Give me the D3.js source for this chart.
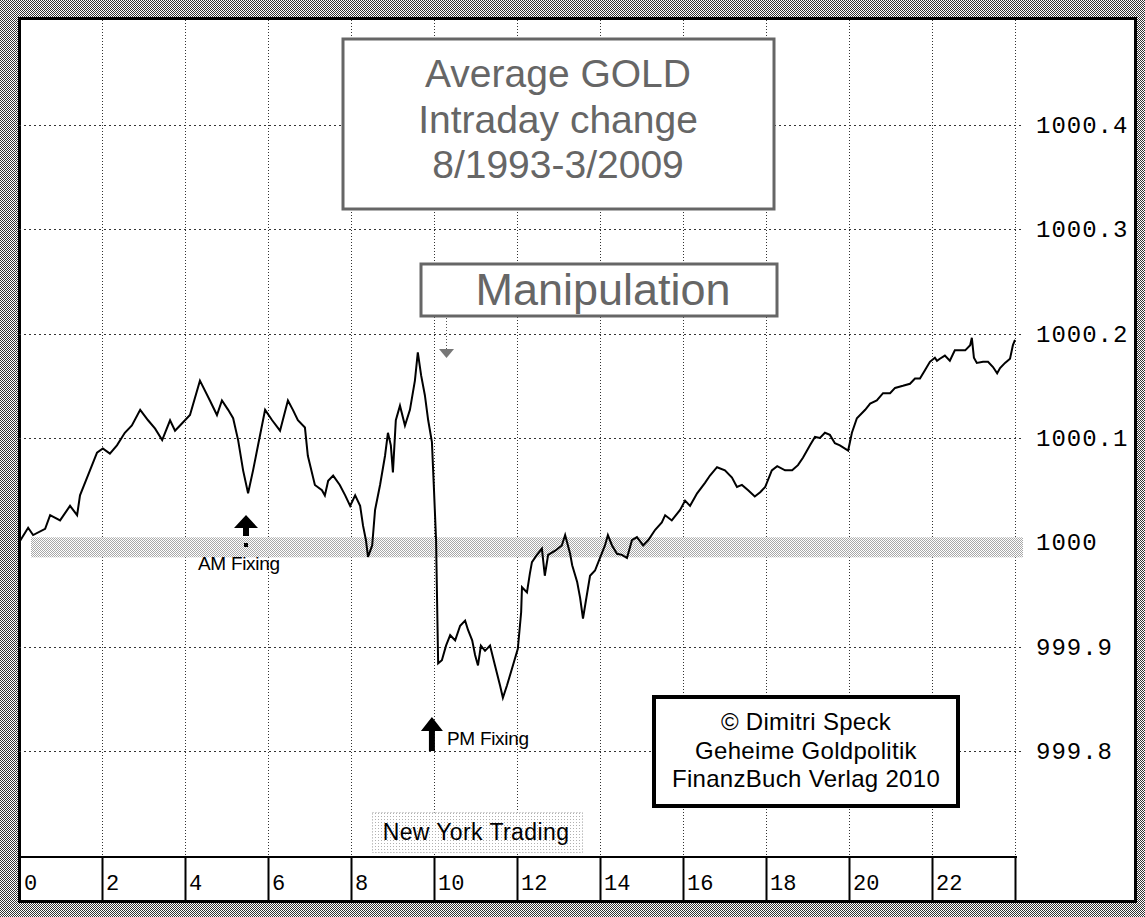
<!DOCTYPE html>
<html>
<head>
<meta charset="utf-8">
<script src="https://cdn.jsdelivr.net/npm/d3@7"></script>
<style>
  body { margin: 0; background: #fff; }
  svg { display: block; }
</style>
</head>
<body>
<script>
/***********************************************************************************/
// Data (average intraday gold curve)

var hours = [
  0.02,0.22,0.34,0.63,0.75,0.99,1.23,1.40,1.47,1.71,
  1.88,2.02,2.19,2.36,2.55,2.72,2.92,3.11,3.28,3.45,
  3.64,3.76,3.88,4.12,4.36,4.60,4.77,4.89,5.04,5.16,
  5.28,5.40,5.52,5.64,5.76,5.93,6.10,6.29,6.48,6.60,
  6.72,6.89,6.96,7.13,7.30,7.37,7.45,7.57,7.73,7.86,
  7.98,8.10,8.22,8.29,8.36,8.41,8.51,8.58,8.70,8.82,
  8.89,8.96,9.01,9.08,9.18,9.30,9.42,9.54,9.61,9.69,
  9.78,9.86,9.95,10.00,10.05,10.07,10.10,10.19,10.29,10.39,
  10.51,10.63,10.75,10.82,10.92,10.99,11.06,11.13,11.23,11.35,
  11.47,11.59,11.66,11.76,11.88,12.02,12.10,12.12,12.24,12.31,
  12.36,12.48,12.60,12.67,12.75,12.92,13.08,13.16,13.28,13.33,
  13.45,13.52,13.59,13.66,13.76,13.88,14.00,14.12,14.19,14.29,
  14.41,14.53,14.65,14.77,14.89,15.04,15.16,15.33,15.49,15.57,
  15.73,15.93,16.05,16.17,16.34,16.53,16.65,16.82,17.01,17.18,
  17.30,17.42,17.57,17.73,17.86,17.98,18.14,18.27,18.46,18.63,
  18.77,18.89,19.06,19.18,19.30,19.42,19.54,19.66,19.78,19.98,
  20.07,20.19,20.39,20.51,20.67,20.82,20.99,21.11,21.30,21.47,
  21.59,21.71,21.83,21.95,22.07,22.12,22.19,22.31,22.43,22.55,
  22.67,22.80,22.92,22.96,23.01,23.08,23.23,23.35,23.47,23.57,
  23.64,23.76,23.88,23.95,24.00
];

var prices = [
  1000.001,1000.014,1000.007,1000.013,1000.026,1000.021,1000.035,1000.026,1000.045,1000.069,
  1000.086,1000.090,1000.085,1000.093,1000.105,1000.112,1000.127,1000.117,1000.109,1000.098,
  1000.117,1000.107,1000.112,1000.122,1000.155,1000.136,1000.122,1000.136,1000.127,1000.119,
  1000.098,1000.069,1000.047,1000.069,1000.093,1000.127,1000.117,1000.107,1000.136,1000.127,
  1000.117,1000.110,1000.083,1000.055,1000.050,1000.045,1000.059,1000.064,1000.055,1000.045,
  1000.035,1000.045,1000.035,1000.016,1000.002,999.986,999.997,1000.031,1000.055,1000.083,
  1000.105,1000.093,1000.067,1000.117,1000.131,1000.112,1000.127,1000.155,1000.182,1000.160,
  1000.141,1000.117,1000.096,1000.050,1000.002,999.954,999.884,999.887,999.901,999.911,
  999.906,999.920,999.925,999.916,999.906,999.892,999.882,999.901,999.896,999.901,
  999.882,999.863,999.851,999.863,999.879,999.898,999.933,999.957,999.952,999.970,
  999.981,999.988,999.994,999.968,999.988,999.992,999.997,1000.007,999.989,999.978,
  999.962,999.947,999.927,999.944,999.968,999.973,999.985,999.997,1000.007,999.997,
  999.989,999.988,999.985,1000.002,1000.005,999.997,1000.002,1000.012,1000.019,1000.026,
  1000.021,1000.031,1000.040,1000.035,1000.047,1000.057,1000.064,1000.072,1000.069,1000.062,
  1000.053,1000.055,1000.050,1000.044,1000.048,1000.053,1000.069,1000.073,1000.069,1000.069,
  1000.074,1000.081,1000.093,1000.101,1000.100,1000.105,1000.103,1000.095,1000.093,1000.088,
  1000.105,1000.119,1000.127,1000.133,1000.136,1000.143,1000.143,1000.148,1000.150,1000.152,
  1000.157,1000.157,1000.165,1000.173,1000.177,1000.174,1000.176,1000.179,1000.174,1000.184,
  1000.184,1000.184,1000.189,1000.196,1000.177,1000.172,1000.173,1000.173,1000.168,1000.162,
  1000.167,1000.172,1000.176,1000.189,1000.194
];

var hourTicks = [0, 2, 4, 6, 8, 10, 12, 14, 16, 18, 20, 22];
var priceTicks = [999.8, 999.9, 1000, 1000.1, 1000.2, 1000.3, 1000.4];
var baseline = 1000;
var amFixingHour = 5.47;
var pmFixingHour = 9.95;
var titleLines = ["Average GOLD", "Intraday change", "8/1993-3/2009"];
var creditLines = ["\u00A9 Dimitri Speck", "Geheime Goldpolitik", "FinanzBuch Verlag 2010"];

/***********************************************************************************/
// Setup

var width = 1145, height = 917;
var frame = { left: 18, top: 17, right: 1137, bottom: 903 };
var axisTop = 857;
var monoFont = '"Liberation Mono", "DejaVu Sans Mono", monospace';
var sansFont = '"Liberation Sans", Arial, sans-serif';

var x = d3.scaleLinear().domain([0, 24]).range([19, 1015]);
var y = d3.scaleLinear().domain([999.8, 1000.4]).range([751, 125]);

var svg = d3.select('body').append('svg')
  .attr('width', width).attr('height', height);

var defs = svg.append('defs');
function checker(id, color){
  var p = defs.append('pattern').attr('id', id)
    .attr('width', 2).attr('height', 2).attr('patternUnits', 'userSpaceOnUse');
  p.append('rect').attr('width', 2).attr('height', 2).attr('fill', '#fff');
  p.append('rect').attr('x', 0).attr('y', 0).attr('width', 1).attr('height', 1).attr('fill', color);
  p.append('rect').attr('x', 1).attr('y', 1).attr('width', 1).attr('height', 1).attr('fill', color);
}
checker('dither', '#333');
checker('ditherLight', '#a8a8a8');
var sparse = defs.append('pattern').attr('id', 'sparse')
  .attr('width', 3).attr('height', 3).attr('patternUnits', 'userSpaceOnUse');
sparse.append('rect').attr('width', 3).attr('height', 3).attr('fill', '#fff');
sparse.append('rect').attr('width', 1).attr('height', 1).attr('fill', '#b0b0b0');

/***********************************************************************************/
// Background + frame

svg.append('rect').attr('width', width).attr('height', height).attr('fill', 'url(#dither)');
svg.append('rect')
  .attr('x', frame.left + 1.5).attr('y', frame.top + 1.5)
  .attr('width', frame.right - frame.left - 3).attr('height', frame.bottom - frame.top - 3)
  .attr('fill', '#fff').attr('stroke', '#000').attr('stroke-width', 3);

/***********************************************************************************/
// Grid

var grid = svg.append('g');
grid.selectAll('.vgrid').data(hourTicks.slice(1).concat([24])).enter().append('line')
  .attr('x1', d => x(d) + 0.5).attr('x2', d => x(d) + 0.5)
  .attr('y1', frame.top + 3).attr('y2', axisTop)
  .attr('stroke', '#333').attr('stroke-width', 1).attr('stroke-dasharray', '1,2');

grid.selectAll('.hgrid').data(priceTicks.filter(d => d !== baseline)).enter().append('line')
  .attr('x1', x(0)).attr('x2', x(24) + 8)
  .attr('y1', d => Math.round(y(d)) + 0.5).attr('y2', d => Math.round(y(d)) + 0.5)
  .attr('stroke', '#333').attr('stroke-width', 1).attr('stroke-dasharray', '2,3');

// shaded 1000 baseline band
svg.append('rect')
  .attr('x', x(0) + 12).attr('y', y(baseline) - 5)
  .attr('width', x(24) - x(0) - 4).attr('height', 20)
  .attr('fill', 'url(#ditherLight)');

/***********************************************************************************/
// Price labels (right)

svg.selectAll('.ylab').data(priceTicks).enter().append('text')
  .attr('x', 1036).attr('y', d => y(d) + 8)
  .style('font-family', monoFont)
  .style('font-size', '24px').style('letter-spacing', '1px')
  .attr('fill', '#000')
  .text(d => String(+d.toFixed(1)));

/***********************************************************************************/
// Hour axis band (bottom)

svg.append('line')
  .attr('x1', frame.left).attr('x2', x(24) + 2)
  .attr('y1', axisTop).attr('y2', axisTop)
  .attr('stroke', '#000').attr('stroke-width', 2);
svg.selectAll('.sep').data(hourTicks.slice(1).concat([24])).enter().append('line')
  .attr('x1', d => x(d) + 0.5).attr('x2', d => x(d) + 0.5)
  .attr('y1', axisTop).attr('y2', frame.bottom)
  .attr('stroke', '#000').attr('stroke-width', 2);
svg.selectAll('.xlab').data(hourTicks).enter().append('text')
  .attr('x', d => x(d) + (d === 0 ? 5 : 4)).attr('y', 890)
  .style('font-family', monoFont)
  .style('font-size', '22px')
  .attr('fill', '#000')
  .text(d => d);

/***********************************************************************************/
// Price line

var line = d3.line()
  .x((d, i) => x(hours[i]))
  .y(d => y(d));
svg.append('path').datum(prices)
  .attr('d', line)
  .attr('fill', 'none').attr('stroke', '#000')
  .attr('stroke-width', 2).attr('stroke-linejoin', 'miter');

/***********************************************************************************/
// Title box

svg.append('rect')
  .attr('x', 343).attr('y', 39).attr('width', 431).attr('height', 170)
  .attr('fill', '#fff').attr('stroke', '#666').attr('stroke-width', 3);
svg.selectAll('.title').data(titleLines).enter().append('text')
  .attr('x', 558).attr('y', (d, i) => 87 + i * 45.5)
  .attr('text-anchor', 'middle')
  .style('font-family', sansFont)
  .style('font-size', '39px')
  .attr('fill', '#666')
  .text(d => d);

/***********************************************************************************/
// Manipulation box + arrow

svg.append('rect')
  .attr('x', 421).attr('y', 264).attr('width', 356).attr('height', 52)
  .attr('fill', '#fff').attr('stroke', '#666').attr('stroke-width', 3);
svg.append('text')
  .attr('x', 603).attr('y', 305)
  .attr('text-anchor', 'middle')
  .style('font-family', sansFont)
  .style('font-size', '45px')
  .attr('fill', '#666')
  .text('Manipulation');
svg.append('line')
  .attr('x1', 446.5).attr('x2', 446.5).attr('y1', 318).attr('y2', 350)
  .attr('stroke', '#555').attr('stroke-width', 1).attr('stroke-dasharray', '1,2');
svg.append('path')
  .attr('d', 'M439,349 L454,349 L446.5,358 Z')
  .attr('fill', '#777');

/***********************************************************************************/
// Fixing markers

function upArrow(cx, tip, head, half, bottom){
  return 'M' + cx + ',' + tip + ' L' + (cx + half) + ',' + head + ' L' + (cx + 3) + ',' + head +
    ' L' + (cx + 3) + ',' + bottom + ' L' + (cx - 3) + ',' + bottom + ' L' + (cx - 3) + ',' + head +
    ' L' + (cx - half) + ',' + head + ' Z';
}

var amX = x(amFixingHour);
svg.append('path').attr('d', upArrow(amX, 515, 528, 12, 536)).attr('fill', '#000');
svg.append('rect').attr('x', amX - 2).attr('y', 543).attr('width', 4).attr('height', 4).attr('fill', '#000');
svg.append('text')
  .attr('x', 198).attr('y', 570)
  .style('font-family', sansFont)
  .style('font-size', '19px').style('letter-spacing', '-0.3px')
  .attr('fill', '#000')
  .text('AM Fixing');

var pmX = x(pmFixingHour);
svg.append('path').attr('d', upArrow(pmX, 717, 731, 11, 751)).attr('fill', '#000');
svg.append('text')
  .attr('x', 447).attr('y', 745)
  .style('font-family', sansFont)
  .style('font-size', '19px').style('letter-spacing', '-0.3px')
  .attr('fill', '#000')
  .text('PM Fixing');

/***********************************************************************************/
// Credit box

svg.append('rect')
  .attr('x', 654).attr('y', 697).attr('width', 304).attr('height', 109)
  .attr('fill', '#fff').attr('stroke', '#000').attr('stroke-width', 4);
svg.selectAll('.credit').data(creditLines).enter().append('text')
  .attr('x', 806).attr('y', (d, i) => 730 + i * 28.5)
  .attr('text-anchor', 'middle')
  .style('font-family', sansFont)
  .style('font-size', '24px').style('letter-spacing', '0.3px')
  .attr('fill', '#000')
  .text(d => d);

/***********************************************************************************/
// New York Trading label

svg.append('rect')
  .attr('x', 372.5).attr('y', 812.5).attr('width', 210).attr('height', 40)
  .attr('fill', 'url(#sparse)').attr('stroke', '#aaa').attr('stroke-width', 1)
  .attr('stroke-dasharray', '1,2');
svg.append('text')
  .attr('x', 476).attr('y', 840)
  .attr('text-anchor', 'middle')
  .style('font-family', sansFont)
  .style('font-size', '23px').style('letter-spacing', '0.4px')
  .attr('fill', '#000')
  .text('New York Trading');
</script>
</body>
</html>
